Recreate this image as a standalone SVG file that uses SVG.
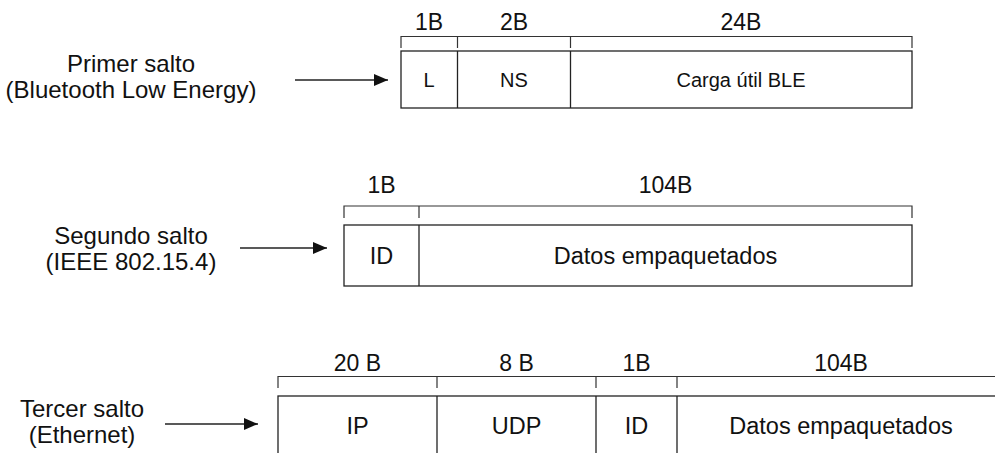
<svg xmlns="http://www.w3.org/2000/svg" width="995" height="453" viewBox="0 0 995 453">
  <style>
    text { font-family: "Liberation Sans", Arial, sans-serif; fill: #111; text-anchor: middle; }
    .lbl { font-size: 24px; }
    .hdr { font-size: 23px; }
    .fld { font-size: 23.5px; }
    .fld1 { font-size: 20px; }
    .box { fill: #fff; stroke: #222; stroke-width: 1.3; }
    .ln { fill: none; stroke: #222; stroke-width: 1.3; }
    .br { fill: none; stroke: #333; stroke-width: 1.2; }
  </style>
  <defs>
    <marker id="arrow" viewBox="0 0 14 12" refX="14" refY="6" markerWidth="14" markerHeight="12" markerUnits="userSpaceOnUse" orient="auto">
      <path d="M0,0 L14,6 L0,12 Z" fill="#111"/>
    </marker>
  </defs>
  <rect width="995" height="453" fill="#fff"/>

  <!-- Hop labels -->
  <g id="hop1-label">
    <text class="lbl" x="131" y="72">Primer salto</text>
    <text class="lbl" x="131" y="98">(Bluetooth Low Energy)</text>
  </g>
  <g id="hop2-label">
    <text class="lbl" x="131" y="244">Segundo salto</text>
    <text class="lbl" x="131" y="270">(IEEE 802.15.4)</text>
  </g>
  <g id="hop3-label">
    <text class="lbl" x="82" y="417">Tercer salto</text>
    <text class="lbl" x="82" y="443">(Ethernet)</text>
  </g>

  <!-- Frame 1: BLE -->
  <g id="frame1">
    <path class="br" d="M401,48 V36.5 H912 V48 M457.5,36.5 V48 M570.5,36.5 V48"/>
    <text class="hdr" x="429" y="30">1B</text>
    <text class="hdr" x="514" y="30">2B</text>
    <text class="hdr" x="741" y="30">24B</text>
    <rect class="box" x="401" y="51" width="511" height="57"/>
    <path class="ln" d="M457.5,51 V108 M570.5,51 V108"/>
    <text class="fld1" x="429" y="87">L</text>
    <text class="fld1" x="514" y="87">NS</text>
    <text class="fld1" x="741" y="87">Carga útil BLE</text>
  </g>

  <!-- Frame 2: 802.15.4 -->
  <g id="frame2">
    <path class="br" d="M344,218 V206 H912 V218 M419,206 V218"/>
    <text class="hdr" x="381.5" y="193">1B</text>
    <text class="hdr" x="665.5" y="193">104B</text>
    <rect class="box" x="344" y="225" width="568" height="61"/>
    <path class="ln" d="M419,225 V286"/>
    <text class="fld" x="381.5" y="264">ID</text>
    <text class="fld" x="665.5" y="264">Datos empaquetados</text>
  </g>

  <!-- Frame 3: Ethernet -->
  <g id="frame3">
    <path class="br" d="M278,388 V376.5 H1005 M437,376.5 V388 M596,376.5 V388 M677,376.5 V388"/>
    <text class="hdr" x="357.5" y="371">20 B</text>
    <text class="hdr" x="516.5" y="371">8 B</text>
    <text class="hdr" x="636.5" y="371">1B</text>
    <text class="hdr" x="841" y="371">104B</text>
    <rect class="box" x="278" y="396" width="727" height="62"/>
    <path class="ln" d="M437,396 V458 M596,396 V458 M677,396 V458"/>
    <text class="fld" x="357.5" y="434">IP</text>
    <text class="fld" x="516.5" y="434">UDP</text>
    <text class="fld" x="636.5" y="434">ID</text>
    <text class="fld" x="841" y="434">Datos empaquetados</text>
  </g>

  <!-- Connectors -->
  <g id="connectors">
    <line class="ln" x1="295" y1="80" x2="388" y2="80" marker-end="url(#arrow)"/>
    <line class="ln" x1="240" y1="248" x2="327" y2="248" marker-end="url(#arrow)"/>
    <line class="ln" x1="165" y1="424" x2="258" y2="424" marker-end="url(#arrow)"/>
  </g>
</svg>
